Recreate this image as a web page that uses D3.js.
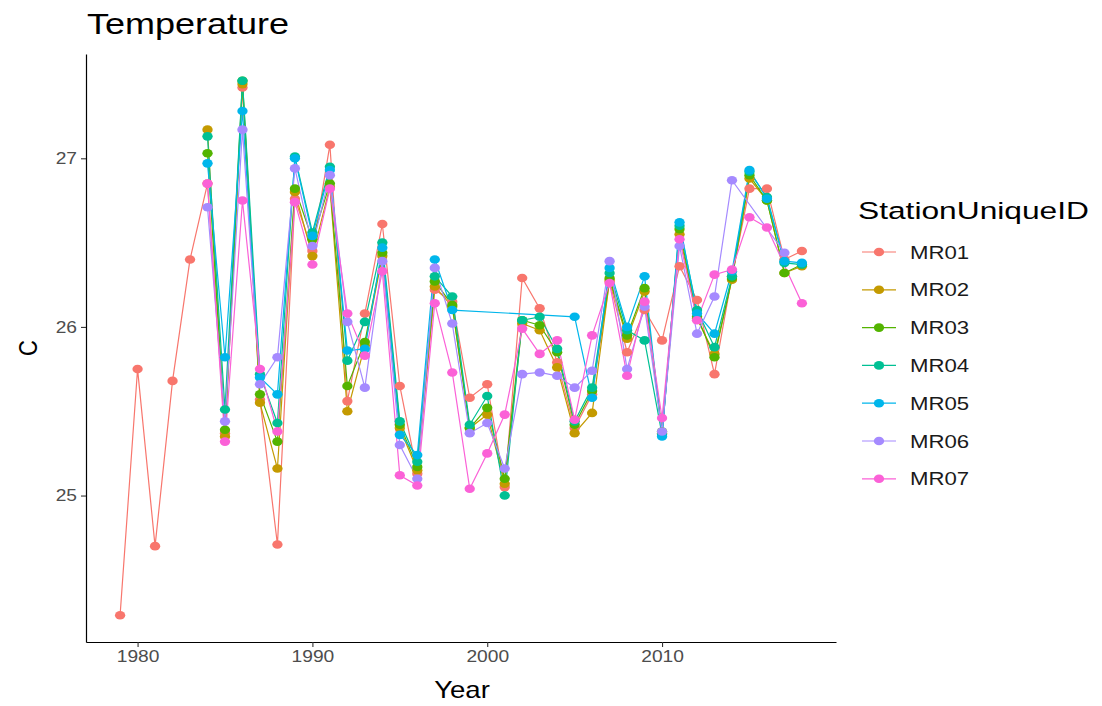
<!DOCTYPE html>
<html>
<head>
<meta charset="utf-8">
<script src="https://cdn.jsdelivr.net/npm/d3@7"></script>
<style>
  body { margin: 0; background: #fff; }
  svg { display: block; font-family: "Liberation Sans", Arial, sans-serif; }
</style>
</head>
<body>
<div id="chart"></div>
<script>
// ----------------------
// Data
// ----------------------
const years = [1979, 1980, 1981, 1982, 1983, 1984, 1985, 1986, 1987, 1988,
               1989, 1990, 1991, 1992, 1993, 1994, 1995, 1996, 1997, 1998,
               1999, 2000, 2001, 2002, 2003, 2004, 2005, 2006, 2007, 2008,
               2009, 2010, 2011, 2012, 2013, 2014, 2015, 2016, 2017, 2018];

const stations = ["MR01", "MR02", "MR03", "MR04", "MR05", "MR06", "MR07"];
const stationColors = ["#F8766D", "#C49A00", "#53B400", "#00C094", "#00B6EB", "#A58AFF", "#FB61D7"];

const mr01 = [24.29, 25.75, 24.70, 25.68, 26.40, 26.85, 25.37, 27.42, 25.57, 24.71,
              26.76, 26.45, 27.08, 25.56, 26.08, 26.61, 25.65, 25.13, 26.22, 26.15,
              25.58, 25.66, 25.05, 26.29, 26.11, 25.79, 25.40, 25.60, 26.27, 25.85,
              26.10, 25.92, 26.36, 26.16, 25.72, 26.30, 26.82, 26.82, 26.40, 26.45];
const mr02 = [null, null, null, null, null, 27.17, 25.35, 27.44, 25.55, 25.16,
              26.80, 26.42, 26.83, 25.50, 25.89, 26.42, 25.40, 25.15, 26.24, 26.12,
              25.40, 25.48, 25.07, 26.02, 25.98, 25.76, 25.37, 25.49, 26.28, 25.93,
              26.21, 25.37, 26.55, 26.05, 25.84, 26.28, 26.88, 26.75, 26.32, 26.36];
const mr03 = [null, null, null, null, null, 27.03, 25.39, 27.46, 25.60, 25.32,
              26.82, 26.52, 26.85, 25.65, 25.91, 26.44, 25.42, 25.17, 26.27, 26.13,
              25.40, 25.52, 25.10, 26.04, 26.01, 25.85, 25.42, 25.62, 26.29, 25.95,
              26.23, 25.38, 26.58, 26.06, 25.82, 26.29, 26.90, 26.75, 26.32, 26.37];
const mr04 = [null, null, null, null, null, 27.13, 25.51, 27.46, 25.72, 25.43,
              27.01, 26.56, 26.95, 25.80, 26.03, 26.50, 25.44, 25.20, 26.30, 26.18,
              25.42, 25.59, 25.00, 26.04, 26.06, 25.87, 25.44, 25.64, 26.32, 25.98,
              25.92, 25.36, 26.60, 26.10, 25.88, 26.30, 26.92, 26.77, 26.38, 26.37];
const mr05 = [null, null, null, null, null, 26.97, 25.82, 27.28, 25.70, 25.60,
              27.00, 26.54, 26.93, 25.86, 25.87, 26.47, 25.36, 25.24, 26.40, 26.10,
              null, null, null, null, null, null, 26.06, 25.58, 26.35, 26.00,
              26.30, 25.35, 26.62, 26.08, 25.96, 26.33, 26.93, 26.76, 26.39, 26.38];
const mr06 = [null, null, null, null, null, 26.71, 25.44, 27.17, 25.66, 25.82,
              26.94, 26.48, 26.90, 26.03, 25.64, 26.39, 25.30, 25.10, 26.35, 26.02,
              25.37, 25.43, 25.16, 25.72, 25.73, 25.71, 25.64, 25.74, 26.39, 25.75,
              26.12, 25.38, 26.48, 25.96, 26.18, 26.87, null, null, 26.44, null];
const mr07 = [null, null, null, null, null, 26.85, 25.32, 26.75, 25.75, 25.38,
              26.74, 26.37, 26.82, 26.08, 25.83, 26.33, 25.12, 25.06, 26.14, 25.73,
              25.04, 25.25, 25.48, 25.99, 25.84, 25.92, 25.45, 25.95, 26.26, 25.71,
              26.15, 25.46, 26.52, 26.04, 26.31, 26.34, 26.65, 26.59, null, 26.14];

const stationValues = [mr01, mr02, mr03, mr04, mr05, mr06, mr07];

const xTicks = [1980, 1990, 2000, 2010];
const yTicks = [25, 26, 27];

// ----------------------
// Setup
// ----------------------
const width = 1102, height = 706;
const margin = { top: 54, right: 266, bottom: 64, left: 86 };
const sx = 1.2; // the reference is stretched sideways, text too

const svg = d3.select("#chart")
    .append("svg")
    .attr("width", width)
    .attr("height", height);

const x = d3.scaleLinear()
    .domain([1977.05, 2019.95])
    .range([margin.left, width - margin.right]);

const y = d3.scaleLinear()
    .domain([24.1315, 27.6185])
    .range([height - margin.bottom, margin.top]);

const color = d3.scaleOrdinal().domain(stations).range(stationColors);

// one series per station, missing years dropped (lines join across gaps)
const series = stations.map((s, i) => ({
    name: s,
    points: years.map((yr, j) => ({ year: yr, value: stationValues[i][j] }))
        .filter(d => d.value !== null)
}));

// ----------------------
// Axes
// ----------------------
const xAxis = svg.append("g")
    .attr("transform", `translate(0, ${height - margin.bottom})`)
    .call(d3.axisBottom(x).tickValues(xTicks).tickFormat(d3.format("d")).tickSize(5).tickSizeOuter(0));

const yAxis = svg.append("g")
    .attr("transform", `translate(${margin.left}, 0)`)
    .call(d3.axisLeft(y).tickValues(yTicks).tickFormat(d3.format("d")).tickSize(5).tickSizeOuter(0));

[xAxis, yAxis].forEach(g => {
    g.select(".domain").attr("stroke", "#000").attr("stroke-width", 1.2);
    g.selectAll(".tick line").attr("stroke", "#333").attr("stroke-width", 1.1);
    g.selectAll(".tick text")
        .attr("fill", "#4D4D4D")
        .attr("font-size", 16)
        .attr("font-family", "Liberation Sans, Arial, sans-serif");
});
xAxis.selectAll(".tick text").attr("y", 9).attr("transform", `scale(${sx},1)`);
yAxis.selectAll(".tick text").attr("x", -9 / sx).attr("transform", `scale(${sx},1)`);

// ----------------------
// Lines & points
// ----------------------
const line = d3.line()
    .x(d => x(d.year))
    .y(d => y(d.value));

svg.append("g")
    .selectAll("path")
    .data(series)
    .join("path")
    .attr("d", d => line(d.points))
    .attr("fill", "none")
    .attr("stroke", d => color(d.name))
    .attr("stroke-width", 1.2);

svg.append("g")
    .selectAll("g")
    .data(series)
    .join("g")
    .attr("fill", d => color(d.name))
    .selectAll("ellipse")
    .data(d => d.points)
    .join("ellipse")
    .attr("cx", d => x(d.year))
    .attr("cy", d => y(d.value))
    .attr("rx", 4.3 * sx)
    .attr("ry", 4.3);

// ----------------------
// Titles
// ----------------------
function stretchedText(xPos, yPos, txt, size, anchor, fill, stretch = sx) {
    return svg.append("text")
        .attr("transform", `translate(${xPos}, ${yPos}) scale(${stretch},1)`)
        .attr("text-anchor", anchor)
        .attr("font-size", size)
        .attr("fill", fill)
        .text(txt);
}

stretchedText(margin.left + 1, 34, "Temperature", 30, "start", "#000");
stretchedText((margin.left + width - margin.right) / 2 + 1, 698, "Year", 23, "middle", "#000");

svg.append("text")
    .attr("transform", `translate(37, ${(margin.top + height - margin.bottom) / 2}) rotate(-90) scale(1,${sx})`)
    .attr("text-anchor", "middle")
    .attr("font-size", 22)
    .text("C");

// ----------------------
// Legend
// ----------------------
const legendX = 860, legendTop = 252, legendStep = 37.8;

stretchedText(legendX - 2, 219, "StationUniqueID", 23.5, "start", "#000", 1.35);

const legend = svg.append("g")
    .selectAll("g")
    .data(stations)
    .join("g")
    .attr("transform", (d, i) => `translate(${legendX}, ${legendTop + i * legendStep})`);

legend.append("line")
    .attr("x1", 2).attr("x2", 36)
    .attr("stroke", d => color(d))
    .attr("stroke-width", 1.2);

legend.append("ellipse")
    .attr("cx", 19)
    .attr("rx", 4.3 * sx)
    .attr("ry", 4.3)
    .attr("fill", d => color(d));

legend.append("text")
    .attr("transform", `translate(50, 6.5) scale(${sx},1)`)
    .attr("font-size", 18.5)
    .attr("fill", "#1a1a1a")
    .text(d => d);
</script>
</body>
</html>
